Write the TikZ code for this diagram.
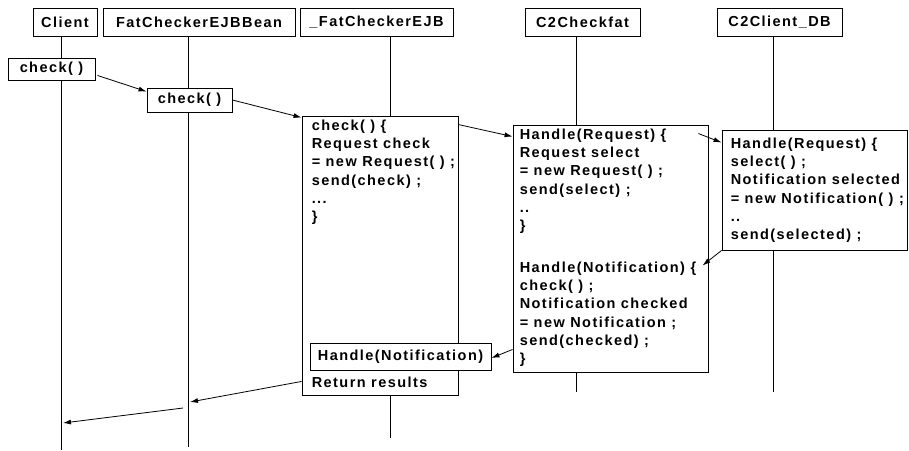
\documentclass[tikz,border=0pt]{standalone}
\usepackage{fontspec}
\newfontfamily\seqfont[LetterSpace=10]{Liberation Sans}
\usetikzlibrary{arrows.meta}
\tikzset{
  obj/.style={draw, line width=0.9pt, fill=white, inner sep=0pt, minimum height=28},
  act/.style={draw, line width=0.9pt, fill=white, inner sep=0pt},
  code/.style={anchor=north west, inner sep=0pt, align=left},
  life/.style={line width=0.8pt},
  msg/.style={line width=0.8pt, -{Latex[length=8pt,width=5pt]}},
}
\begin{document}
\begin{tikzpicture}[x=1pt,y=-1pt,font=\seqfont\bfseries\fontsize{14.5}{18.3}\selectfont]
		\useasboundingbox (0,0) rectangle (909,450);
		
		% objects
		\node[obj, minimum width=64] (client) at (65,22) {Client};
		\node[obj, minimum width=192] (bean) at (199,22) {FatCheckerEJBBean};
		\node[obj, minimum width=153] (ejb) at (376.5,22) {\_FatCheckerEJB};
		\node[obj, minimum width=115] (fat) at (582.5,22) {C2Checkfat};
		\node[obj, minimum width=125] (db) at (779.5,22) {C2Client\_DB};
		
		% lifelines
		\coordinate (clientEnd) at (61,450);
		\coordinate (beanEnd) at (188,447);
		\coordinate (ejbEnd) at (390,438);
		\coordinate (fatEnd) at (576,392);
		\coordinate (dbEnd) at (773,392);
		\draw[life] (clientEnd |- client.south) -- (clientEnd);
		\draw[life] (beanEnd |- bean.south) -- (beanEnd);
		\draw[life] (ejbEnd |- ejb.south) -- (ejbEnd);
		\draw[life] (fatEnd |- fat.south) -- (fatEnd);
		\draw[life] (dbEnd |- db.south) -- (dbEnd);
		
		% activations
		\node[act, minimum width=87, minimum height=22] (chk1) at (51.5,69) {check( )};
		\node[act, minimum width=85, minimum height=24] (chk2) at (189.5,100) {check( )};
		\node[act, minimum width=156, minimum height=279] (ejbBox) at (380,255.5) {};
		\node[act, minimum width=195, minimum height=247] (fatBox) at (610.5,248.5) {};
		\node[act, minimum width=185, minimum height=120] (dbBox) at (814.5,190) {};
		\node[act, minimum width=181, minimum height=27] (hnote) at (400.5,356.5) {Handle(Notification)};
		
		\node[code] (ejbCode) at ([shift={(10,4)}]ejbBox.north west)
			{check( ) \{\\Request check\\= new Request( ) ;\\send(check) ;\\...\\\}};
		\node[code] (fatCode) at ([shift={(7,4)}]fatBox.north west)
			{Handle(Request) \{\\Request select\\= new Request( ) ;\\send(select) ;\\..\\\}};
		\node[code] (fatNote) at ([shift={(7,137)}]fatBox.north west)
			{Handle(Notification) \{\\check( ) ;\\Notification checked\\= new Notification ;\\send(checked) ;\\\}};
		\node[code] (dbCode) at ([shift={(9,8)}]dbBox.north west)
			{Handle(Request) \{\\select( ) ;\\Notification selected\\= new Notification( ) ;\\..\\send(selected) ;};
		\node[code] (ret) at ([shift={(10,-19)}]ejbBox.south west) {Return results};
		
		% messages
		\coordinate (r1) at (190,402);
		\coordinate (r2) at (183,408);
		\coordinate (r3) at (63,423);
		\draw[msg] ([shift={(2,-5)}]chk1.south east) -- ([shift={(0,4)}]chk2.north west);
		\draw[msg] (chk2.east) -- ([shift={(0,2)}]ejbBox.north west);
		\draw[msg] ([shift={(0,9)}]ejbBox.north east) -- ([shift={(0,12)}]fatBox.north west);
		\draw[msg] ([shift={(-10,9)}]fatBox.north east) -- ([shift={(0,13)}]dbBox.north west);
		\draw[msg] (dbBox.south west) -- ([shift={(-6,141)}]fatBox.north east);
		\draw[msg] ([shift={(0,-23)}]fatBox.south west) -- ([shift={(0,1.5)}]hnote.east);
		\draw[msg] ([shift={(0,-14)}]ejbBox.south west) -- (r1);
		\draw[msg] (r2) -- (r3);
	\end{tikzpicture}
\end{document}
